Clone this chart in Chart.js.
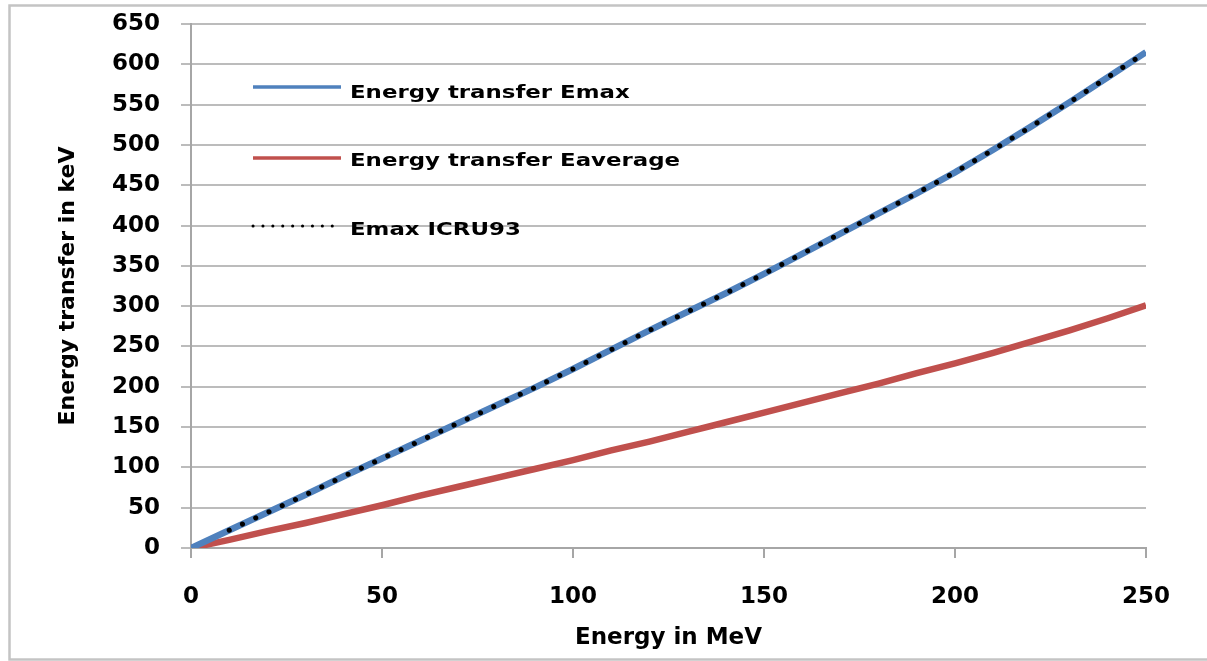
<!DOCTYPE html>
<html>
<head>
<meta charset="utf-8">
<script src="https://cdn.jsdelivr.net/npm/chart.js@4"></script>
<style>
  html, body { margin: 0; padding: 0; background: #ffffff; }
  canvas { display: block; }
</style>
</head>
<body>
<canvas id="chart" width="1207" height="661"></canvas>
<script>
// Proton energy (MeV) and energy transferred to electrons (keV)
const energyMeV = [0, 10, 20, 30, 40, 50, 60, 70, 80, 90, 100, 110, 120, 130, 140, 150, 160, 170, 180, 190, 200, 210, 220, 230, 240, 250];
const emaxKeV = [0, 22, 44, 66, 89, 111, 133, 155, 177, 199, 222, 246, 270, 293, 316, 340, 365, 390, 415, 440, 466, 494, 523, 553, 584, 615];
const eaverageKeV = [0, 10, 21, 31, 42, 53, 65, 76, 87, 98, 109, 121, 132, 144, 156, 168, 180, 192, 204, 217, 229, 242, 256, 270, 285, 301];
const icruEnergyMeV = [10, 20, 30, 40, 50, 60, 70, 80, 90, 100, 110, 120, 130, 140, 150, 160, 170, 180, 190, 200, 210, 220, 230, 240, 250];
const icruEmaxKeV = [22, 44, 66, 89, 111, 133, 155, 177, 199, 222, 246, 270, 293, 316, 340, 365, 390, 415, 440, 466, 494, 523, 553, 584, 615];

const seriesNames = ['Energy transfer Emax', 'Energy transfer Eaverage', 'Emax ICRU93'];
const xTicks = [0, 50, 100, 150, 200, 250];
const yTicks = [0, 50, 100, 150, 200, 250, 300, 350, 400, 450, 500, 550, 600, 650];
const xTitle = 'Energy in MeV';
const yTitle = 'Energy transfer in keV';

const toPoints = (xs, ys) => xs.map((x, i) => ({ x: x, y: ys[i] }));

// Grey frame around the whole figure
const framePlugin = {
  id: 'frame',
  beforeDraw(chart) {
    const ctx = chart.ctx;
    ctx.save();
    ctx.fillStyle = '#ffffff';
    ctx.fillRect(0, 0, chart.width, chart.height);
    ctx.strokeStyle = '#c4c4c4';
    ctx.lineWidth = 2.5;
    ctx.strokeRect(9.5, 5.5, chart.width - 4, chart.height - 7);
    ctx.restore();
  }
};

// Legend inside the plot area, upper left
const insideLegend = {
  id: 'insideLegend',
  afterDraw(chart) {
    const ctx = chart.ctx;
    const rows = [
      { lineY: 87, textY: 98 },
      { lineY: 158, textY: 166 },
      { lineY: 226, textY: 235 }
    ];
    chart.data.datasets.forEach((ds, i) => {
      const r = rows[i];
      ctx.save();
      ctx.strokeStyle = ds.borderColor;
      if (ds.borderDash && ds.borderDash.length) {
        ctx.lineWidth = 3;
        ctx.lineCap = 'round';
        ctx.setLineDash([0.1, 9.8]);
      } else {
        ctx.lineWidth = 3.5;
        ctx.lineCap = 'butt';
      }
      ctx.beginPath();
      ctx.moveTo(253, r.lineY);
      ctx.lineTo(341, r.lineY);
      ctx.stroke();
      ctx.setLineDash([]);
      ctx.fillStyle = '#000000';
      ctx.font = 'bold 18px "DejaVu Sans"';
      ctx.textAlign = 'left';
      ctx.textBaseline = 'alphabetic';
      ctx.translate(350, r.textY);
      ctx.scale(1.27, 1);
      ctx.fillText(ds.label, 0, 0);
      ctx.restore();
    });
  }
};

new Chart(document.getElementById('chart'), {
  type: 'line',
  data: {
    datasets: [
      {
        label: seriesNames[0],
        data: toPoints(energyMeV, emaxKeV),
        borderColor: '#4F81BD',
        borderWidth: 6.5,
        pointRadius: 0,
        tension: 0,
        order: 2
      },
      {
        label: seriesNames[1],
        data: toPoints(energyMeV, eaverageKeV),
        borderColor: '#C0504D',
        borderWidth: 6.5,
        pointRadius: 0,
        tension: 0,
        order: 3
      },
      {
        label: seriesNames[2],
        data: toPoints(icruEnergyMeV, icruEmaxKeV),
        borderColor: '#000000',
        borderWidth: 5,
        borderDash: [0.1, 14.5],
        borderCapStyle: 'round',
        pointRadius: 0,
        tension: 0,
        order: 1
      }
    ]
  },
  options: {
    responsive: false,
    animation: false,
    devicePixelRatio: 1,
    layout: { padding: { top: 24, right: 61, left: 0, bottom: 0 } },
    plugins: {
      legend: { display: false },
      tooltip: { enabled: false }
    },
    scales: {
      x: {
        type: 'linear',
        min: xTicks[0],
        max: xTicks[xTicks.length - 1],
        afterBuildTicks: s => { s.ticks = xTicks.map(v => ({ value: v })); },
        afterFit: s => { s.height = 113; s.paddingLeft = 0; s.paddingRight = 0; },
        grid: {
          drawOnChartArea: false,
          drawTicks: true,
          tickLength: 10,
          color: '#a6a6a6',
          lineWidth: 2
        },
        border: { display: true, color: '#a6a6a6', width: 2 },
        ticks: {
          color: '#000000',
          padding: 25,
          maxRotation: 0,
          font: { family: 'DejaVu Sans', size: 23, weight: 'bold' }
        },
        title: {
          display: true,
          text: xTitle,
          color: '#000000',
          padding: { top: 0, bottom: 9 },
          font: { family: 'DejaVu Sans', size: 23, weight: 'bold' }
        }
      },
      y: {
        type: 'linear',
        min: yTicks[0],
        max: yTicks[yTicks.length - 1],
        afterBuildTicks: s => { s.ticks = yTicks.map(v => ({ value: v })); },
        afterFit: s => { s.width = 191; s.paddingTop = 0; s.paddingBottom = 0; },
        grid: {
          drawOnChartArea: true,
          drawTicks: true,
          tickLength: 10,
          color: '#bcbcbc',
          lineWidth: 2
        },
        border: { display: true, color: '#a6a6a6', width: 2 },
        ticks: {
          color: '#000000',
          padding: 21,
          font: { family: 'DejaVu Sans', size: 23, weight: 'bold' }
        },
        title: {
          display: true,
          text: yTitle,
          color: '#000000',
          padding: { top: 55, bottom: 0 },
          font: { family: 'DejaVu Sans', size: 22, weight: 'bold' }
        }
      }
    }
  },
  plugins: [framePlugin, insideLegend]
});
</script>
</body>
</html>
